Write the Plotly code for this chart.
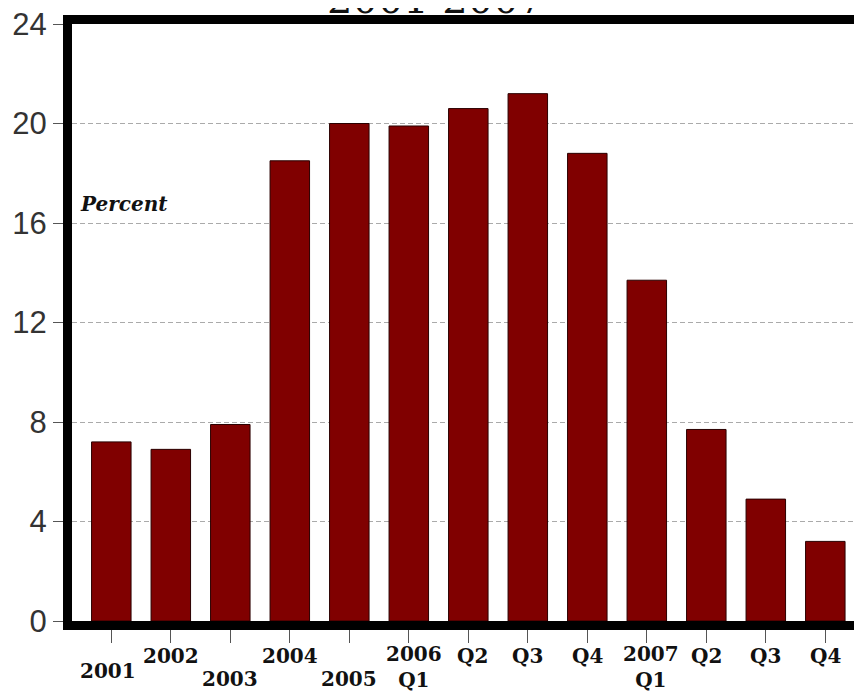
import plotly.graph_objects as go

categories = ["2001", "2002", "2003", "2004", "2005",
              "2006 Q1", "2006 Q2", "2006 Q3", "2006 Q4",
              "2007 Q1", "2007 Q2", "2007 Q3", "2007 Q4"]
values = [7.2, 6.9, 7.9, 18.5, 20.0, 19.9, 20.6, 21.2, 18.8, 13.7, 7.7, 4.9, 3.2]
tick_labels = ["2001", "2002", "2003", "2004", "2005", "2006<br>Q1", "Q2", "Q3", "Q4",
               "2007<br>Q1", "Q2", "Q3", "Q4"]
y_ticks = [0, 4, 8, 12, 16, 20, 24]
title_text = "2001-2007"
unit_label = "Percent"

# layout-only: vertical offset (px) of each staggered tick label
label_shift = [-36, -21, -44, -21, -44, -19, -21, -21, -21, -19, -21, -21, -21]
label_xshift = [-3, 0, 0, 0, 0, 5, 4, 0, 0, 4, 0, 0, 0]

# page body has an 8px default margin; plot area spans page x 72.., y 24..621
L, T, B = 64, 16, 81
PW = 862 - L
PH = 694 - T - B

fig = go.Figure(go.Bar(
    x=categories, y=values, width=0.664,
    marker=dict(color="#800000", line=dict(color="#2a0000", width=1)),
))

annotations = []
for i, (lab, s, xs) in enumerate(zip(tick_labels, label_shift, label_xshift)):
    annotations.append(dict(
        x=i, xref="x", y=0, yref="paper", yanchor="top", xanchor="center",
        yshift=s, xshift=xs, text=lab, showarrow=False,
        font=dict(family="DejaVu Serif", size=20, color="#111", weight="bold"),
        align="center",
    ))
annotations.append(dict(
    x=6 / PW, xref="paper", y=(621 - 204) / PH, yref="paper",
    xanchor="left", yanchor="middle", text="<b><i>" + unit_label + "</i></b>",
    showarrow=False, font=dict(family="DejaVu Serif", size=20, color="#111"),
))
annotations.append(dict(
    x=(435 - 72) / PW, xref="paper", y=1.0, yref="paper",
    xanchor="center", yanchor="bottom", text=title_text, showarrow=False,
    font=dict(family="DejaVu Serif", size=40, color="#111"),
))

fig.update_layout(
    width=862, height=694,
    margin=dict(l=L, r=0, t=T, b=B),
    paper_bgcolor="white", plot_bgcolor="white",
    showlegend=False, bargap=0.33,
    annotations=annotations,
    xaxis=dict(
        type="category", range=[-0.6605, -0.6605 + PW / 59.5], automargin=False,
        showline=True, linewidth=9, linecolor="black", mirror=True,
        ticks="outside", ticklen=13, tickwidth=1, tickcolor="#555",
        showticklabels=False, showgrid=False, zeroline=False,
    ),
    yaxis=dict(
        range=[0, 24], tickvals=y_ticks, automargin=False,
        ticklabeloverflow="allow",
        showline=True, linewidth=9, linecolor="black",
        ticks="outside", ticklen=10, tickwidth=1, tickcolor="#555",
        tickfont=dict(family="Liberation Sans", size=31, color="#333"),
        showgrid=True, gridcolor="#aaaaaa", gridwidth=1, griddash="5px,3px",
        zeroline=False,
    ),
)

fig.write_html("out.html")
